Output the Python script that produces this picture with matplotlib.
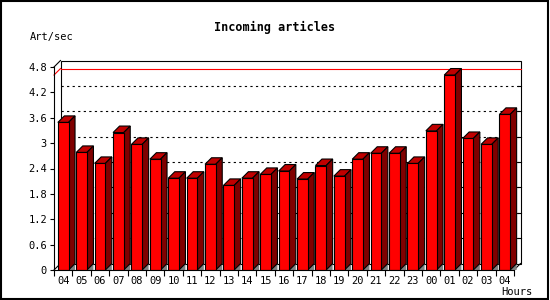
import matplotlib
matplotlib.use("Agg")
import matplotlib.pyplot as plt
from matplotlib.patches import Polygon, Rectangle

hours = ["04", "05", "06", "07", "08", "09", "10", "11", "12", "13", "14", "15", "16",
         "17", "18", "19", "20", "21", "22", "23", "00", "01", "02", "03", "04"]
rates = [3.49, 2.78, 2.52, 3.25, 2.97, 2.62, 2.17, 2.17, 2.50, 2.00, 2.17, 2.26, 2.34,
         2.15, 2.47, 2.22, 2.62, 2.76, 2.76, 2.52, 3.29, 4.61, 3.11, 2.97, 3.68]
yticks = [0, 0.6, 1.2, 1.8, 2.4, 3.0, 3.6, 4.2, 4.8]
ytick_labels = ["0", "0.6", "1.2", "1.8", "2.4", "3", "3.6", "4.2", "4.8"]

W, H = 550, 300
LW = 0.8
fig = plt.figure(figsize=(W / 100, H / 100), dpi=100)
fig.patch.set_facecolor("white")
fig.patches.append(Rectangle((0.001, 0.002), 0.996, 0.995, transform=fig.transFigure,
                             fill=False, edgecolor="black", linewidth=1.5))

left, right, bottom, top = 54, 514, 270, 67
ax = fig.add_axes([left / W, (H - bottom) / H, (right - left) / W, (bottom - top) / H])
n = len(hours)
ymax = 4.8
ax.set_xlim(-0.5, n - 0.5)
ax.set_ylim(0, ymax)

# depth of the 3d effect, in data units
depth_px = 6.5
dx = depth_px * n / (right - left)
dy = depth_px * ymax / (bottom - top)

mono = "DejaVu Sans Mono"

# back panel
x0, x1 = -0.5, n - 0.5
ax.add_patch(Polygon([(x0 + dx, dy), (x1 + dx, dy), (x1 + dx, ymax + dy), (x0 + dx, ymax + dy)],
                     closed=True, facecolor="white", edgecolor="black", linewidth=LW,
                     clip_on=False, zorder=0.5))
ax.plot([x0, x0 + dx], [ymax, ymax + dy], color="black", lw=LW, clip_on=False, zorder=0.6)
ax.plot([x0, x0 + dx], [0, dy], color="black", lw=LW, clip_on=False, zorder=0.6)
ax.plot([x1, x1 + dx], [0, dy], color="black", lw=LW, clip_on=False, zorder=0.6)

for v in yticks[1:-1]:
    ax.plot([x0 + dx, x1 + dx], [v + dy, v + dy], color="black", lw=LW,
            linestyle=(0, (2, 3)), clip_on=False, zorder=0.7)
    ax.plot([x1 + dx - 0.15, x1 + dx], [v + dy, v + dy], color="black", lw=LW,
            clip_on=False, zorder=0.7)

# max line
vmax = max(rates)
ax.plot([x0 + dx, x1 + dx], [vmax + dy, vmax + dy], color="red", lw=LW, clip_on=False, zorder=0.8)
ax.plot([x0, x0 + dx], [vmax, vmax + dy], color="red", lw=LW, clip_on=False, zorder=0.8)

# bars
bw = 0.58
xs = list(range(n))
ax.bar(xs, rates, width=bw, color="#ff0000", edgecolor="black", linewidth=LW, zorder=3)
for x, v in zip(xs, rates):
    xl, xr = x - bw / 2, x + bw / 2
    ax.add_patch(Polygon([(xl, v), (xr, v), (xr + dx, v + dy), (xl + dx, v + dy)],
                         closed=True, facecolor="#c00000", edgecolor="black", lw=LW, zorder=2,
                         clip_on=False))
    ax.add_patch(Polygon([(xr, 0), (xr + dx, dy), (xr + dx, v + dy), (xr, v)],
                         closed=True, facecolor="#800000", edgecolor="black", lw=LW, zorder=2,
                         clip_on=False))
    ax.add_patch(Polygon([(xr, 0), (xr + dx, dy), (xr + dx, 0)],
                         closed=True, facecolor="#808080", edgecolor="none", zorder=1.5,
                         clip_on=False))

for s in ["top", "right"]:
    ax.spines[s].set_visible(False)
for s in ["left", "bottom"]:
    ax.spines[s].set_linewidth(LW)
    ax.spines[s].set_zorder(4)
ax.patch.set_visible(False)

ax.set_yticks(yticks)
ax.set_yticklabels(ytick_labels, fontfamily=mono, fontsize=7.5)
ax.tick_params(axis="y", direction="out", length=3, width=LW, pad=2)
ax.set_xticks(xs)
ax.set_xticklabels(hours, fontfamily=mono, fontsize=7.5)
ax.tick_params(axis="x", which="major", length=0, pad=4)
ax.set_xticks([x + 0.5 for x in range(-1, n)], minor=True)
ax.tick_params(axis="x", which="minor", direction="out", length=4, width=LW)

fig.text(275 / W, 1 - 27 / H, "Incoming articles", ha="center", va="center",
         fontfamily=mono, fontsize=8.5, fontweight="bold")
fig.text(30 / W, 1 - 37 / H, "Art/sec", ha="left", va="center", fontfamily=mono, fontsize=7.5)
fig.text(533 / W, 1 - 292 / H, "Hours", ha="right", va="center", fontfamily=mono, fontsize=7.5)

fig.savefig("out.png", dpi=100)
